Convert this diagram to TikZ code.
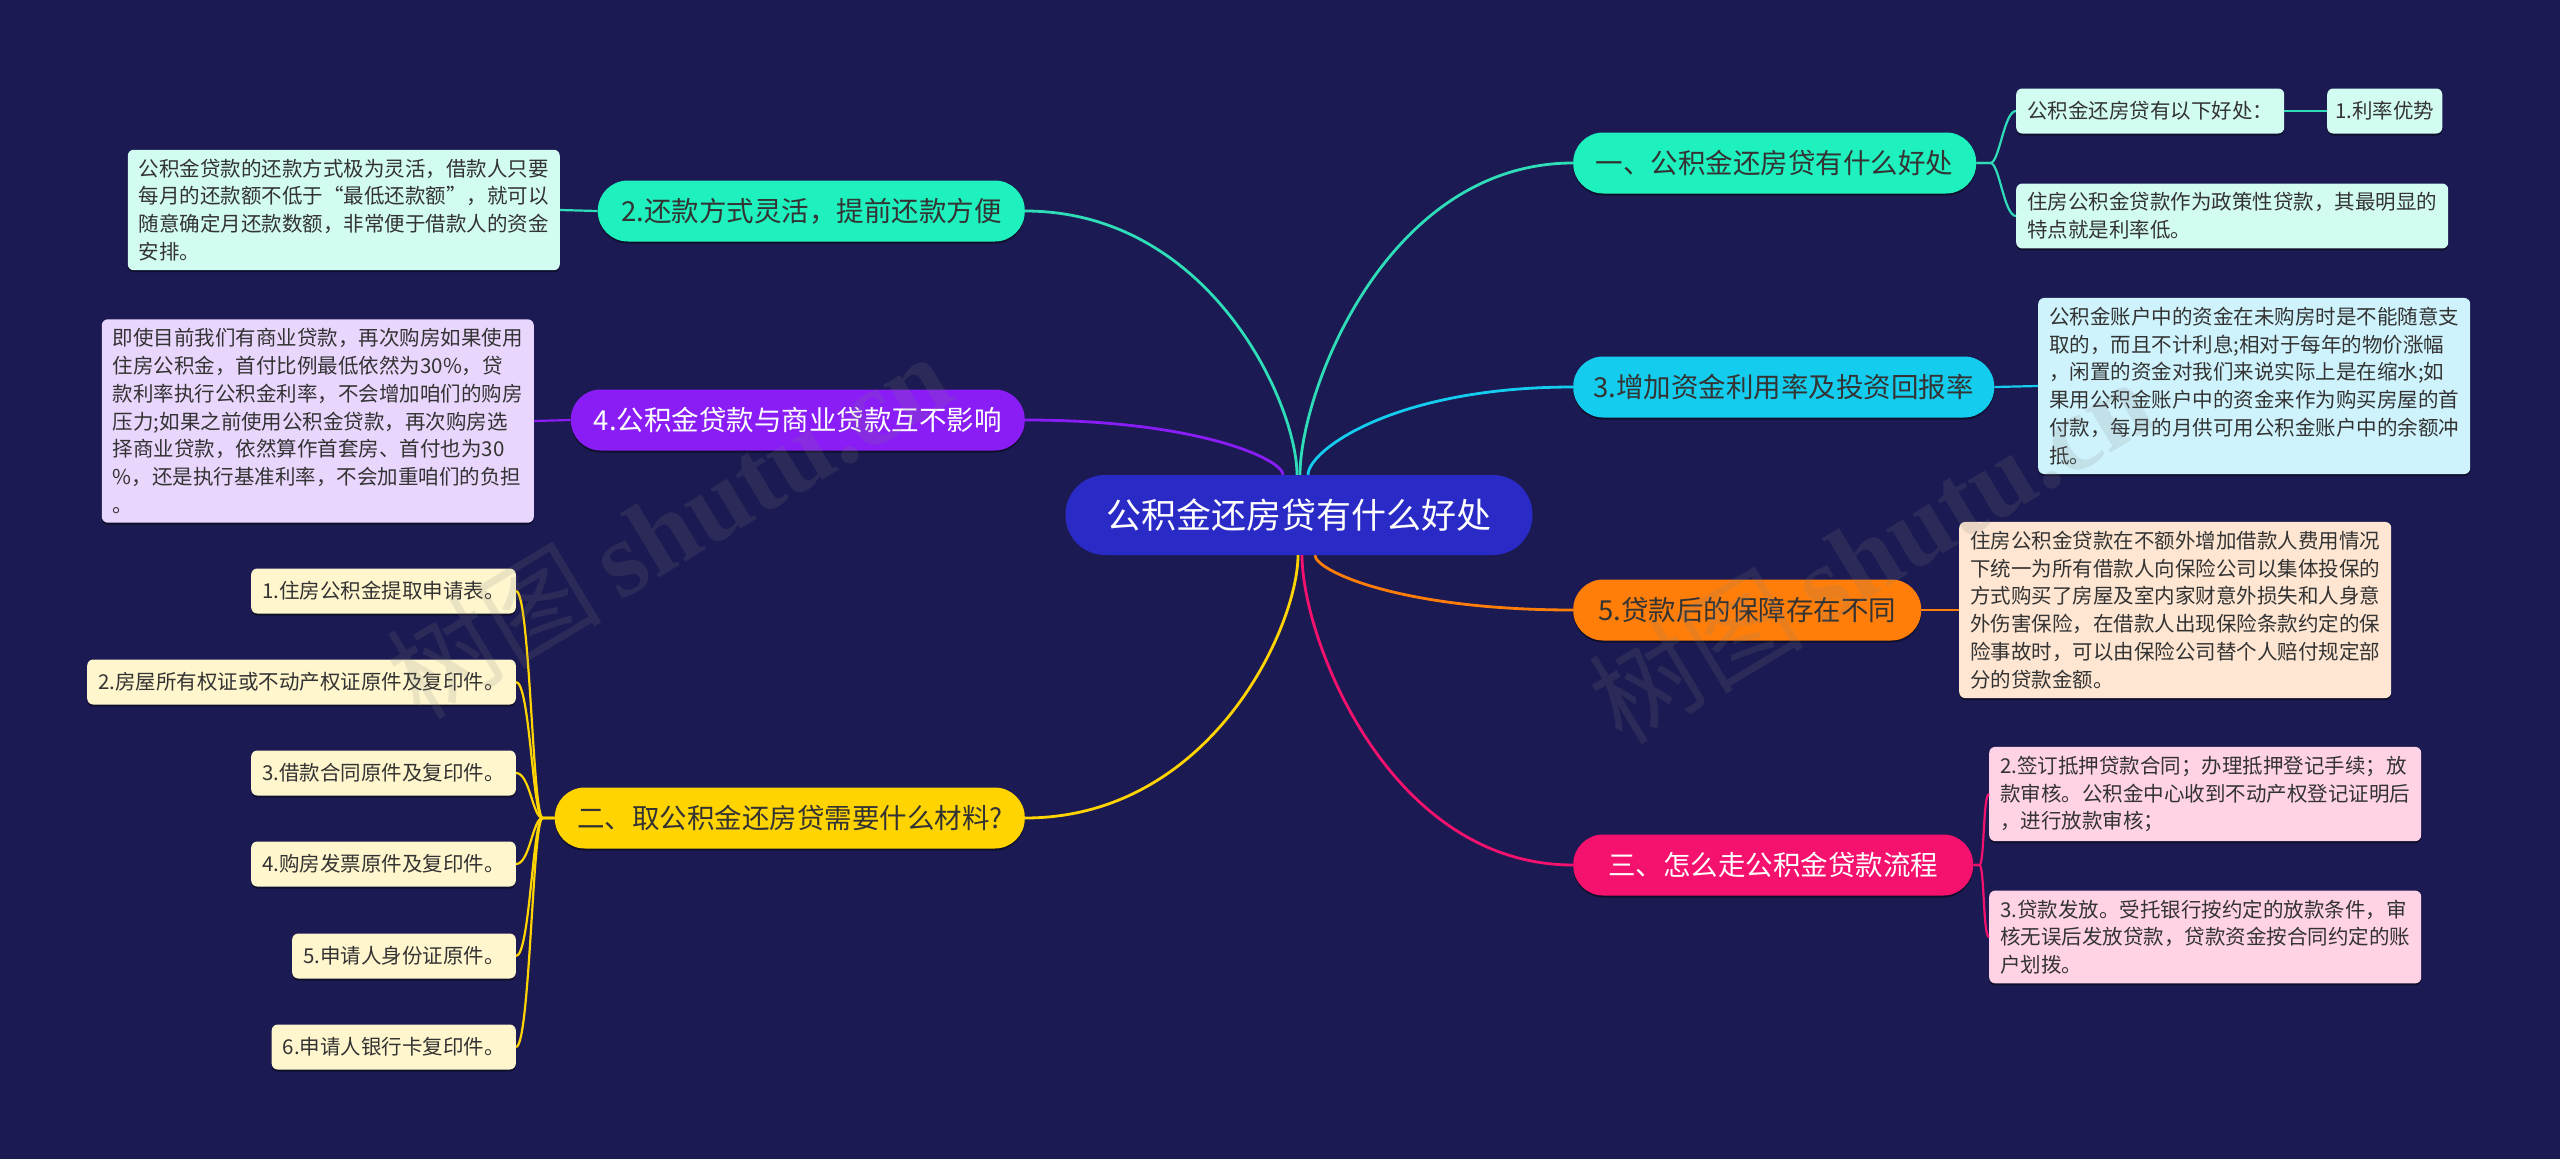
\documentclass[tikz,border=0pt]{standalone}
\usepackage{fontspec}
\setmainfont{Noto Sans CJK SC}
\newfontfamily\wmlatin{Liberation Serif}
\usetikzlibrary{shadows}
\definecolor{cBg}{HTML}{1B1A52}
\definecolor{cRoot}{HTML}{2A2AC6}
\definecolor{cTurq}{HTML}{1EF0BE}
\definecolor{cTurqL}{HTML}{2FDDB8}
\definecolor{cCyan}{HTML}{14CDEE}
\definecolor{cOrange}{HTML}{FF7E0A}
\definecolor{cPink}{HTML}{F5126E}
\definecolor{cPurple}{HTML}{8A1DF5}
\definecolor{cYellow}{HTML}{FFD400}
\definecolor{fMint}{HTML}{D2FBF1}
\definecolor{fCyan}{HTML}{CFF3FC}
\definecolor{fPeach}{HTML}{FEE6D2}
\definecolor{fPink}{HTML}{FFD2E6}
\definecolor{fLav}{HTML}{E9D6FD}
\definecolor{fYel}{HTML}{FFF6CE}
\definecolor{cText}{HTML}{333333}
\begin{document}
\begin{tikzpicture}[x=1pt,y=1pt,
  shadowed/.style={drop shadow={shadow xshift=0pt,shadow yshift=-2pt,opacity=0.45,fill=black}},
  rootbox/.style={fill=cRoot,text=white,rounded corners=39.5pt,minimum height=80pt,minimum width=467pt,inner xsep=0pt,font=\fontsize{35}{40}\selectfont},
  branch/.style={shadowed,rounded corners=30pt,minimum height=61pt,inner xsep=0pt,text=cText,font=\fontsize{27.5}{32}\selectfont},
  leaf/.style={shadowed,rounded corners=6pt,text=cText,inner xsep=11pt,inner ysep=9pt,font=\fontsize{20.5}{27.8}\selectfont},
  para/.style={leaf,text width=410pt,align=left},
  single/.style={leaf,minimum height=45pt,inner ysep=0pt},
  conn/.style={line width=2.8pt},
  sub/.style={line width=2.2pt},
  wm/.style={text=gray,opacity=0.16,font=\fontsize{108}{110}\selectfont}
]
\fill[cBg] (0,0) rectangle (2560,-1159);
\useasboundingbox (0,0) rectangle (2560,-1159);

% root
\node[rootbox] (root) at (1299,-515) {公积金还房贷有什么好处};

% right branches
\node[branch,fill=cTurq,minimum width=403pt,anchor=west] (b1) at (1573,-163) {一、公积金还房贷有什么好处};
\node[branch,fill=cCyan,minimum width=421pt,anchor=west] (b3) at (1573,-387) {3.增加资金利用率及投资回报率};
\node[branch,fill=cOrange,minimum width=348pt,anchor=west] (b5) at (1573,-610) {5.贷款后的保障存在不同};
\node[branch,fill=cPink,text=white,minimum width=400pt,anchor=west] (bS) at (1573,-865) {三、怎么走公积金贷款流程};

% left branches
\node[branch,fill=cTurq,minimum width=427pt,anchor=east] (L1) at (1025,-211) {2.还款方式灵活，提前还款方便};
\node[branch,fill=cPurple,text=white,minimum width=454pt,anchor=east] (L2) at (1025,-420) {4.公积金贷款与商业贷款互不影响};
\node[branch,fill=cYellow,minimum width=470pt,anchor=east] (L3) at (1025,-818) {二、取公积金还房贷需要什么材料?};

% right leaves
\node[single,fill=fMint,anchor=west] (c1a) at (2016,-111) {公积金还房贷有以下好处：};
\node[single,fill=fMint,anchor=west,inner xsep=8pt] (c1b) at (2327,-111) {1.利率优势};
\node[para,fill=fMint,anchor=west] (c1c) at (2016,-216) {住房公积金贷款作为政策性贷款，其最明显的\\特点就是利率低。};
\node[para,fill=fCyan,anchor=west] (c3) at (2038,-386) {公积金账户中的资金在未购房时是不能随意支\\取的，而且不计利息;相对于每年的物价涨幅\\，闲置的资金对我们来说实际上是在缩水;如\\果用公积金账户中的资金来作为购买房屋的首\\付款，每月的月供可用公积金账户中的余额冲\\抵。};
\node[para,fill=fPeach,anchor=west] (c5) at (1959,-610) {住房公积金贷款在不额外增加借款人费用情况\\下统一为所有借款人向保险公司以集体投保的\\方式购买了房屋及室内家财意外损失和人身意\\外伤害保险，在借款人出现保险条款约定的保\\险事故时，可以由保险公司替个人赔付规定部\\分的贷款金额。};
\node[para,fill=fPink,anchor=west] (cS1) at (1989,-794) {2.签订抵押贷款合同；办理抵押登记手续；放\\款审核。公积金中心收到不动产权登记证明后\\，进行放款审核；};
\node[para,fill=fPink,anchor=west] (cS2) at (1989,-937) {3.贷款发放。受托银行按约定的放款条件，审\\核无误后发放贷款，贷款资金按合同约定的账\\户划拨。};

% left leaves
\node[para,fill=fMint,anchor=east] (cL1) at (560,-210) {公积金贷款的还款方式极为灵活，借款人只要\\每月的还款额不低于“最低还款额”，就可以\\随意确定月还款数额，非常便于借款人的资金\\安排。};
\node[para,fill=fLav,anchor=east] (cL2) at (534,-421) {即使目前我们有商业贷款，再次购房如果使用\\住房公积金，首付比例最低依然为30\%，贷\\款利率执行公积金利率，不会增加咱们的购房\\压力;如果之前使用公积金贷款，再次购房选\\择商业贷款，依然算作首套房、首付也为30\\\%，还是执行基准利率，不会加重咱们的负担\\。};

\node[single,fill=fYel,anchor=east] (y1) at (516,-591) {1.住房公积金提取申请表。};
\node[single,fill=fYel,anchor=east] (y2) at (516,-682) {2.房屋所有权证或不动产权证原件及复印件。};
\node[single,fill=fYel,anchor=east] (y3) at (516,-773) {3.借款合同原件及复印件。};
\node[single,fill=fYel,anchor=east] (y4) at (516,-864) {4.购房发票原件及复印件。};
\node[single,fill=fYel,anchor=east] (y5) at (516,-956) {5.申请人身份证原件。};
\node[single,fill=fYel,anchor=east] (y6) at (516,-1047) {6.申请人银行卡复印件。};

% root connectors
\draw[conn,cTurqL] ([xshift=1pt]root.north) .. controls +(0,84) and +(-186,0) .. (b1.west);
\draw[conn,cCyan] ([xshift=9pt]root.north) .. controls +(0,24) and +(-180,0) .. (b3.west);
\draw[conn,cOrange] ([xshift=16pt]root.south) .. controls +(0,-15) and +(-175,0) .. (b5.west);
\draw[conn,cPink] ([xshift=3pt]root.south) .. controls +(0,-84) and +(-184,0) .. (bS.west);
\draw[conn,cTurqL] ([xshift=-2pt]root.north) .. controls +(0,71) and +(185,0) .. (L1.east);
\draw[conn,cPurple] ([xshift=-16pt]root.north) .. controls +(0,15) and +(175,0) .. (L2.east);
\draw[conn,cYellow] ([xshift=-1pt]root.south) .. controls +(0,-71) and +(186,0) .. (L3.east);

% sub connectors
\draw[sub,cTurqL] (b1.east) -- ++(14,0) .. controls +(9,0) and +(-12,0) .. (c1a.west);
\draw[sub,cTurqL] (b1.east) -- ++(14,0) .. controls +(9,0) and +(-12,0) .. (c1c.west);
\draw[sub,cTurqL] (c1a.east) -- (c1b.west);
\draw[sub,cCyan] (b3.east) -- (c3.west);
\draw[sub,cOrange] (b5.east) -- (c5.west);
\draw[sub,cPink] (bS.east) -- ++(6,0) .. controls +(5,0) and +(-6,0) .. (cS1.west);
\draw[sub,cPink] (bS.east) -- ++(6,0) .. controls +(5,0) and +(-6,0) .. (cS2.west);
\draw[sub,cTurqL] (L1.west) -- (cL1.east);
\draw[sub,cPurple] (L2.west) -- (cL2.east);
\foreach \k in {1,...,6}{
  \draw[sub,cYellow] (L3.west) -- ++(-12,0) .. controls +(-10,0) and +(14,0) .. (y\k.east);
}

% watermarks
\node[wm,rotate=31] (wm1) at (668,-525) {树图\,{\wmlatin\bfseries shutu.cn}};
\node[wm,rotate=31] (wm2) at (1870,-550) {树图\,{\wmlatin\bfseries shutu.cn}};
\end{tikzpicture}
\end{document}
